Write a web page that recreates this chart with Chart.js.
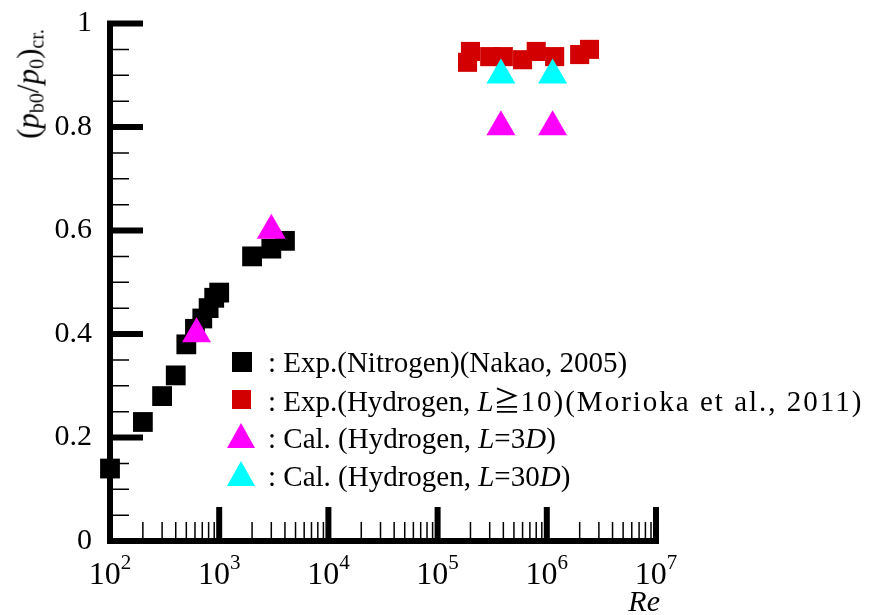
<!DOCTYPE html>
<html>
<head>
<meta charset="utf-8">
<script src="https://cdn.jsdelivr.net/npm/chart.js@4.4.0/dist/chart.umd.min.js"></script>
<style>
  html, body { margin: 0; padding: 0; background: #fff; }
  #wrap { position: relative; width: 872px; height: 615px; font-family: "Liberation Serif", "Times New Roman", serif; color: #000; }
  #chart { position: absolute; left: 0; top: 0; }
  #ytitle { position: absolute; left: 28px; top: 84px; transform: translate(-50%, -50%) rotate(-90deg); white-space: nowrap; font-size: 31px; line-height: 31px; }
  #ytitle sub { font-size: 20px; vertical-align: -5px; line-height: 0; }
  #xtitle { position: absolute; right: 212px; top: 586px; font-size: 30px; font-style: italic; line-height: 30px; }
  #legend { position: absolute; left: 225px; top: 343px; font-size: 29px; }
  #legend .row { position: relative; height: 38px; line-height: 38px; white-space: nowrap; }
  #legend .txt { position: absolute; left: 43px; top: 0; }
  #legend .sq { position: absolute; left: 7px; top: 9px; width: 20px; height: 20px; }
  #legend .tri { position: absolute; left: 2px; top: 4px; width: 0; height: 0; border-left: 14.5px solid transparent; border-right: 14.5px solid transparent; border-bottom: 25px solid; }
  .cjk { font-family: "Noto Sans CJK JP", "DejaVu Sans", sans-serif; font-size: 27px; }
  .wide { letter-spacing: 2px; }
</style>
</head>
<body>
<div id="wrap">
  <canvas id="chart" width="872" height="615"></canvas>
  <div id="ytitle">(<i>p</i><sub>b0</sub>/<i>p</i><sub>0</sub>)<sub>cr.</sub></div>
  <div id="xtitle">Re</div>
  <div id="legend">
    <div class="row"><span class="sq" style="background:#000000"></span><span class="txt">: Exp.(Nitrogen)(Nakao, 2005)</span></div>
    <div class="row"><span class="sq" style="background:#d20000;width:19px;height:19px"></span><span class="txt">: Exp.(Hydrogen, <i>L</i><span class="cjk">≧</span><span class="wide">10)(Morioka et al., 2011)</span></span></div>
    <div class="row"><span class="tri" style="border-bottom-color:#ff00ff"></span><span class="txt">: Cal. (Hydrogen, <i>L</i>=3<i>D</i>)</span></div>
    <div class="row"><span class="tri" style="border-bottom-color:#00ffff"></span><span class="txt">: Cal. (Hydrogen, <i>L</i>=30<i>D</i>)</span></div>
  </div>
</div>
<script>
// Nakao (2005), nitrogen experiments
const nakaoRe = [100, 200, 300, 400, 500, 600, 700, 800, 900, 1000, 2000, 3000, 4000];
const nakaoRatio = [0.14, 0.23, 0.28, 0.32, 0.38, 0.41, 0.43, 0.45, 0.47, 0.48, 0.55, 0.565, 0.58];
// Morioka et al. (2011), hydrogen experiments, L >= 10
const moriokaRe = [188000, 200000, 300000, 400000, 600000, 800000, 1180000, 2000000, 2460000];
const moriokaRatio = [0.925, 0.946, 0.936, 0.936, 0.93, 0.946, 0.936, 0.94, 0.95];
// calculations, hydrogen
const cal3DRe = [620, 3000, 380000, 1130000];
const cal3DRatio = [0.4, 0.6, 0.8, 0.8];
const cal30DRe = [380000, 1130000];
const cal30DRatio = [0.9, 0.9];

const yTicks = [0, 0.2, 0.4, 0.6, 0.8, 1];
const yTickLabels = ['0', '0.2', '0.4', '0.6', '0.8', '1'];
const xDecades = [2, 3, 4, 5, 6, 7];

const toPoints = (xs, ys) => xs.map((v, i) => ({ x: v, y: ys[i] }));

// axes with inward ticks, drawn from the scales
const frameAxes = {
  id: 'frameAxes',
  beforeDatasetsDraw(chart) {
    const { ctx, scales: { x, y } } = chart;
    const x0 = x.getPixelForValue(100), x1 = x.getPixelForValue(1e7);
    const y0 = y.getPixelForValue(0), y1 = y.getPixelForValue(1);
    const line = (ax, ay, bx, by) => { ctx.moveTo(ax, ay); ctx.lineTo(bx, by); };
    ctx.save();
    ctx.strokeStyle = '#000';
    ctx.lineCap = 'butt';

    ctx.lineWidth = 6;
    ctx.beginPath();
    line(x0 - 3, y0, x1 + 3, y0);
    line(x0, y0 + 3, x0, y1 - 3);
    xDecades.forEach(e => {
      const px = x.getPixelForValue(10 ** e);
      line(px, y0, px, y0 - 34);
    });
    yTicks.forEach(v => {
      const py = y.getPixelForValue(v);
      line(x0, py, x0 + 33, py);
    });
    ctx.stroke();

    ctx.lineWidth = 1.5;
    ctx.beginPath();
    xDecades.slice(0, -1).forEach(e => {
      for (let m = 2; m <= 9; m++) {
        const px = x.getPixelForValue(m * 10 ** e);
        line(px, y0, px, y0 - 19);
      }
    });
    for (let i = 1; i < 20; i++) {
      if (i % 4 === 0) continue;
      const py = y.getPixelForValue(i * 0.05);
      line(x0, py, x0 + 19, py);
    }
    ctx.stroke();

    ctx.fillStyle = '#000';
    ctx.font = '30px "Liberation Serif"';
    ctx.textAlign = 'right';
    ctx.textBaseline = 'middle';
    yTicks.forEach((v, i) => ctx.fillText(yTickLabels[i], 92, y.getPixelForValue(v)));

    const numFont = '32px "Liberation Serif"', expFont = '21px "Liberation Serif"';
    ctx.textAlign = 'left';
    ctx.textBaseline = 'alphabetic';
    xDecades.forEach(e => {
      const px = x.getPixelForValue(10 ** e);
      ctx.font = numFont;
      const w1 = ctx.measureText('10').width;
      ctx.font = expFont;
      const w2 = ctx.measureText(String(e)).width;
      const left = px - (w1 + w2) / 2;
      ctx.font = numFont;
      ctx.fillText('10', left, 584);
      ctx.font = expFont;
      ctx.fillText(String(e), left + w1, 569);
    });
    ctx.restore();
  }
};

new Chart(document.getElementById('chart'), {
  type: 'scatter',
  data: {
    datasets: [
      { label: 'Exp.(Nitrogen)(Nakao, 2005)', data: toPoints(nakaoRe, nakaoRatio),
        pointStyle: 'rect', pointRadius: 14, backgroundColor: '#000000', borderWidth: 0, order: 4 },
      { label: 'Exp.(Hydrogen, L≧10)(Morioka et al., 2011)', data: toPoints(moriokaRe, moriokaRatio),
        pointStyle: 'rect', pointRadius: 13.5, backgroundColor: '#d20000', borderWidth: 0, order: 3 },
      { label: 'Cal. (Hydrogen, L=3D)', data: toPoints(cal3DRe, cal3DRatio),
        pointStyle: 'triangle', pointRadius: 16.7, backgroundColor: '#ff00ff', borderWidth: 0, order: 2 },
      { label: 'Cal. (Hydrogen, L=30D)', data: toPoints(cal30DRe, cal30DRatio),
        pointStyle: 'triangle', pointRadius: 16.7, backgroundColor: '#00ffff', borderWidth: 0, order: 1 }
    ]
  },
  options: {
    responsive: false,
    animation: false,
    clip: false,
    layout: { padding: { left: 110, right: 216, top: 23.5, bottom: 74 } },
    plugins: { legend: { display: false }, tooltip: { enabled: false } },
    events: [],
    scales: {
      x: { type: 'logarithmic', min: 100, max: 1e7, display: false },
      y: { type: 'linear', min: 0, max: 1, display: false }
    }
  },
  plugins: [frameAxes]
});
</script>
</body>
</html>
